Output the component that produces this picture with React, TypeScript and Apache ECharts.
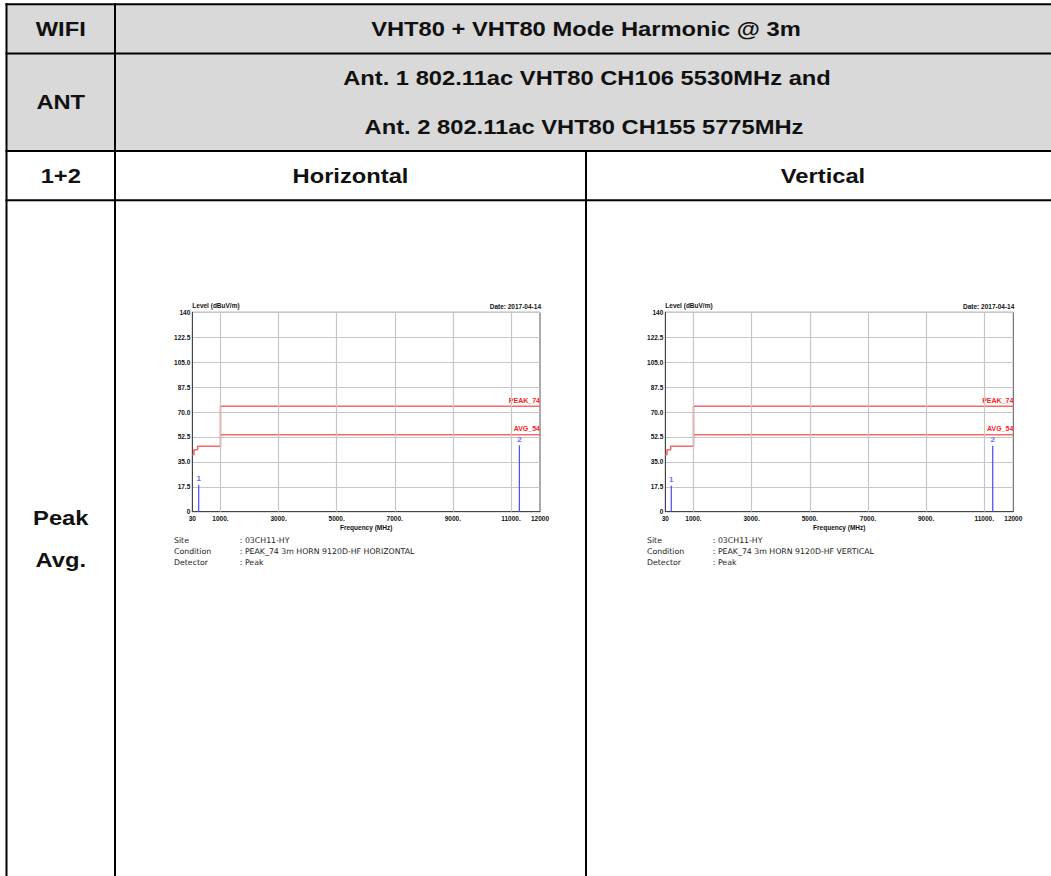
import React, { useEffect, useRef } from "react";
import * as echarts from "echarts";

// ---------- data ----------
const X_TICKS = [30, 1000, 3000, 5000, 7000, 9000, 11000, 12000];
const X_GRID = [1000, 3000, 5000, 7000, 9000, 11000];
const Y_MIN = 0;
const Y_MAX = 140;
const Y_STEP = 17.5;

const PEAK_FREQ = [30, 88, 88, 216, 216, 1000, 1000, 12000];
const PEAK_LEVEL = [40, 40, 43.5, 43.5, 46, 46, 74, 74];
const AVG_FREQ = [1000, 12000];
const AVG_LEVEL = [54, 54];

const MARKER_FREQ_H = [250, 11290];
const MARKER_LEVEL_H = [18.5, 46.3];
const MARKER_FREQ_V = [236, 11292];
const MARKER_LEVEL_V = [18.0, 46.0];

const INFO_LABELS = ["Site", "Condition", "Detector"];
const INFO_VALUES_H = [": 03CH11-HY", ": PEAK_74 3m HORN 9120D-HF HORIZONTAL", ": Peak"];
const INFO_VALUES_V = [": 03CH11-HY", ": PEAK_74 3m HORN 9120D-HF VERTICAL", ": Peak"];

const DATE_TEXT = "Date: 2017-04-14";
const Y_NAME = "Level (dBuV/m)";
const X_NAME = "Frequency (MHz)";
const PEAK_NAME = "PEAK_74";
const AVG_NAME = "AVG_54";

const HEAD_WIFI = "WIFI";
const HEAD_TITLE = "VHT80 + VHT80 Mode Harmonic @ 3m";
const HEAD_ANT = "ANT";
const ANT_LINE1 = "Ant. 1 802.11ac VHT80 CH106 5530MHz and";
const ANT_LINE2 = "Ant. 2 802.11ac VHT80 CH155 5775MHz";
const ROW_12 = "1+2";
const COL_H = "Horizontal";
const COL_V = "Vertical";
const ROW_PEAK = "Peak";
const ROW_AVG = "Avg.";

// ---------- layout ----------
const FONT = '"Liberation Sans", Arial, Helvetica, sans-serif';
const INFO_FONT = '"DejaVu Sans", Verdana, sans-serif';
const GRIDS = [
  { left: 192.3, top: 312.3, width: 347.7, height: 199.4 },
  { left: 665.3, top: 312.3, width: 348, height: 199.4 },
];

const zip = (xs: number[], ys: number[]) => xs.map((x, i) => [x, ys[i]]);
const formatX = (v: number) => (v === 30 ? "30" : v === 12000 ? "12000" : `${v}.`);
const formatY = (v: number) => (v === 0 ? "0" : v === 140 ? "140" : v.toFixed(1));

function tableText(text: string, x: number, y: number) {
  return {
    type: "text",
    x,
    y,
    scaleX: 1.13,
    silent: true,
    style: {
      text,
      fill: "#111",
      font: `bold 21px ${FONT}`,
      textAlign: "center",
      textVerticalAlign: "middle",
      align: "center",
      verticalAlign: "middle",
    },
  };
}

function hLine(y: number, x1: number, x2: number) {
  return { type: "line", silent: true, shape: { x1, y1: y, x2, y2: y }, style: { stroke: "#000", lineWidth: 2 } };
}
function vLine(x: number, y1: number, y2: number) {
  return { type: "line", silent: true, shape: { x1: x, y1, x2: x, y2 }, style: { stroke: "#000", lineWidth: 2 } };
}

function smallText(text: string, x: number, y: number, align: string, color = "#111", font = `bold 6.5px ${FONT}`) {
  return {
    type: "text",
    x,
    y,
    silent: true,
    style: { text, fill: color, font, textAlign: align, textVerticalAlign: "middle", align, verticalAlign: "middle" },
  };
}

function labelledEnd(points: number[][], label: any) {
  const data: any[] = points.map((p) => ({ value: p, symbol: "none" }));
  data[data.length - 1] = {
    value: points[points.length - 1],
    symbol: "circle",
    symbolSize: 1,
    label: { show: true, ...label },
  };
  return data;
}

function buildChart(idx: number, mFreq: number[], mLevel: number[]) {
  const axisText = { fontSize: 6.5, fontWeight: "bold", fontFamily: FONT, color: "#111" };
  const xAxis = {
    type: "value",
    gridIndex: idx,
    min: 30,
    max: 12000,
    axisLine: { show: true, lineStyle: { color: "#444", width: 1 } },
    axisTick: { show: false },
    splitLine: { show: false },
    axisLabel: { ...axisText, customValues: X_TICKS, formatter: formatX, margin: 3, hideOverlap: false },
    name: X_NAME,
    nameLocation: "middle",
    nameGap: 12,
    nameTextStyle: axisText,
  };
  const yAxis = {
    type: "value",
    gridIndex: idx,
    min: Y_MIN,
    max: Y_MAX,
    interval: Y_STEP,
    axisLine: { show: true, lineStyle: { color: "#444", width: 1 } },
    axisTick: { show: false },
    splitLine: { show: true, lineStyle: { color: "#c6c6c6", width: 1.2 } },
    axisLabel: { ...axisText, formatter: formatY, margin: 2 },
    name: Y_NAME,
    nameLocation: "end",
    nameGap: 3,
    nameTextStyle: { ...axisText, align: "left" },
  };
  const redLabel = {
    fontSize: 7,
    fontWeight: "bold",
    fontFamily: FONT,
    color: "#ff1a1a",
    position: "top",
    align: "right",
    distance: 2,
  };
  const lineBase = {
    type: "line",
    xAxisIndex: idx,
    yAxisIndex: idx,
    showSymbol: true,
    silent: true,
  };
  const series: any[] = [
    {
      type: "line",
      xAxisIndex: idx,
      yAxisIndex: idx,
      data: [],
      z: 1,
      silent: true,
      markLine: {
        silent: true,
        symbol: ["none", "none"],
        label: { show: false },
        lineStyle: { color: "#c6c6c6", type: "solid", width: 1.2 },
        data: X_GRID.map((v) => ({ xAxis: v })),
      },
    },
    {
      ...lineBase,
      z: 3,
      itemStyle: { color: "#f26a6a" },
      lineStyle: { color: "#f26a6a", width: 1.6 },
      data: labelledEnd(zip(PEAK_FREQ, PEAK_LEVEL), { ...redLabel, formatter: PEAK_NAME }),
    },
    {
      ...lineBase,
      z: 3,
      itemStyle: { color: "#f26a6a" },
      lineStyle: { color: "#f26a6a", width: 1.6 },
      data: labelledEnd(zip(AVG_FREQ, AVG_LEVEL), { ...redLabel, formatter: AVG_NAME }),
    },
  ];
  mFreq.forEach((f, i) => {
    series.push({
      ...lineBase,
      z: 4,
      itemStyle: { color: "#4b4bff" },
      lineStyle: { color: "#4b4bff", width: 1.2 },
      data: labelledEnd(
        [
          [f, 0],
          [f, mLevel[i]],
        ],
        {
          formatter: String(i + 1),
          position: "top",
          distance: 2,
          fontSize: 8,
          fontWeight: "bold",
          fontFamily: FONT,
          color: "#6a6aff",
        }
      ),
    });
  });
  return { xAxis, yAxis, series };
}

export default function App() {
  const ref = useRef<HTMLDivElement>(null);
  useEffect(() => {
    if (!ref.current) return;
    const chart = echarts.init(ref.current, null, { renderer: "svg" });
    const c0 = buildChart(0, MARKER_FREQ_H, MARKER_LEVEL_H);
    const c1 = buildChart(1, MARKER_FREQ_V, MARKER_LEVEL_V);

    const L = 6.5, C1 = 115, C2 = 586, R = 1060;
    const Y0 = 4.2, Y1 = 53.5, Y2 = 151, Y3 = 200.2, YB = 880;

    const graphics: any[] = [
      { type: "rect", silent: true, shape: { x: L, y: Y0, width: R - L, height: Y2 - Y0 }, style: { fill: "#d9d9d9" } },
      hLine(Y0, L - 1, R),
      hLine(Y1, L - 1, R),
      hLine(Y2, L - 1, R),
      hLine(Y3, L - 1, R),
      vLine(L, Y0 - 1, YB),
      vLine(C1, Y0 - 1, YB),
      vLine(C2, Y2, YB),
      tableText(HEAD_WIFI, (L + C1) / 2, (Y0 + Y1) / 2),
      tableText(HEAD_TITLE, 586, (Y0 + Y1) / 2),
      tableText(HEAD_ANT, (L + C1) / 2, (Y1 + Y2) / 2),
      tableText(ANT_LINE1, 587, 78),
      tableText(ANT_LINE2, 584, 127),
      tableText(ROW_12, (L + C1) / 2, (Y2 + Y3) / 2),
      tableText(COL_H, (C1 + C2) / 2, (Y2 + Y3) / 2),
      tableText(COL_V, 823, (Y2 + Y3) / 2),
      tableText(ROW_PEAK, (L + C1) / 2, 518),
      tableText(ROW_AVG, (L + C1) / 2, 560),
    ];
    GRIDS.forEach((g, gi) => {
      graphics.push(smallText(DATE_TEXT, g.left + g.width + 1, g.top - 6, "right"));
      const vals = gi === 0 ? INFO_VALUES_H : INFO_VALUES_V;
      INFO_LABELS.forEach((lab, i) => {
        const y = 540 + i * 11;
        graphics.push(smallText(lab, g.left - 18.3, y, "left", "#222", `7.8px ${INFO_FONT}`));
        graphics.push(smallText(vals[i], g.left + 47.5, y, "left", "#222", `7.8px ${INFO_FONT}`));
      });
    });

    chart.setOption({
      animation: false,
      backgroundColor: "#fff",
      grid: GRIDS.map((g) => ({
        ...g,
        show: true,
        borderColor: "#555",
        borderWidth: 1,
        backgroundColor: "transparent",
        containLabel: false,
      })),
      xAxis: [c0.xAxis, c1.xAxis],
      yAxis: [c0.yAxis, c1.yAxis],
      series: [...c0.series, ...c1.series],
      graphic: graphics,
    });
    return () => chart.dispose();
  }, []);
  return (
    <div
      ref={ref}
      style={{ position: "absolute", left: 0, top: 0, width: 1051, height: 876, background: "#fff" }}
    />
  );
}
